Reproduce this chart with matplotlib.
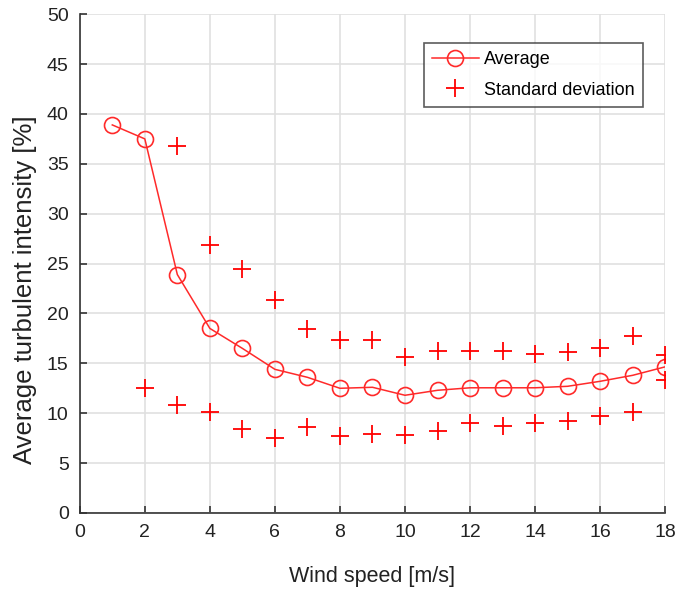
import matplotlib
matplotlib.use("Agg")
import matplotlib.pyplot as plt
from matplotlib import font_manager

names = {f.name for f in font_manager.fontManager.ttflist}
fam = ['Liberation Sans Narrow', 'DejaVu Sans'] if 'Liberation Sans Narrow' in names else ['Liberation Sans', 'DejaVu Sans']
plt.rcParams['font.family'] = fam

wind = [1, 2, 3, 4, 5, 6, 7, 8, 9, 10, 11, 12, 13, 14, 15, 16, 17, 18]
average = [38.9, 37.5, 23.9, 18.5, 16.5, 14.4, 13.6, 12.5, 12.6, 11.8, 12.3, 12.55, 12.55, 12.55, 12.7, 13.2, 13.8, 14.65]

std_x = [3, 4, 5, 6, 7, 8, 9, 10, 11, 12, 13, 14, 15, 16, 17, 18,
         2, 3, 4, 5, 6, 7, 8, 9, 10, 11, 12, 13, 14, 15, 16, 17, 18]
std_y = [36.8, 26.9, 24.5, 21.3, 18.4, 17.3, 17.3, 15.6, 16.2, 16.2, 16.2, 15.9, 16.1, 16.5, 17.7, 15.8,
         12.5, 10.8, 10.1, 8.4, 7.5, 8.6, 7.7, 7.9, 7.8, 8.2, 9.0, 8.7, 9.05, 9.25, 9.7, 10.1, 13.3]

xticks = [0, 2, 4, 6, 8, 10, 12, 14, 16, 18]
yticks = [0, 5, 10, 15, 20, 25, 30, 35, 40, 45, 50]

fig = plt.figure(figsize=(6.76, 5.91), dpi=100)
ax = fig.add_axes([0.118, 0.132, 0.866, 0.844])

ax.plot(wind, average, color='#ff2a2a', lw=1.1, marker='o', ms=11.5, mfc='none', mec='#ff2a2a', mew=1.2,
        label='Average', zorder=3)
ax.plot(std_x, std_y, ls='none', marker='+', ms=13, color='#ff0000', mew=1.3,
        label='Standard deviation', zorder=3)

ax.set_xlim(0, 18)
ax.set_ylim(0, 50)
ax.set_xticks(xticks)
ax.set_yticks(yticks)
ax.grid(True, color='#e0e0e0', lw=1.2)
ax.set_axisbelow(True)
for s in ['top', 'right']:
    ax.spines[s].set_visible(False)
for s in ['left', 'bottom']:
    ax.spines[s].set_color('#333333')
    ax.spines[s].set_linewidth(1.2)
ax.tick_params(direction='in', length=5, width=1.2, color='#333333', labelsize=14, labelcolor='#222222', pad=8)
ax.set_xlabel('Wind speed [m/s]', fontsize=15.5, color='#222222', labelpad=18)
ax.set_ylabel('Average turbulent intensity [%]', fontsize=18.5, color='#222222')
ax.yaxis.set_label_coords(-0.073, 0.447)

leg = ax.legend(loc='upper right', bbox_to_anchor=(0.962, 0.942), borderaxespad=0, fontsize=13, frameon=True,
                fancybox=False, edgecolor='#333333', handlelength=2.6, handletextpad=0.3,
                borderpad=0.45, labelspacing=0.75)
leg.get_frame().set_linewidth(1.2)

fig.savefig('out.png', dpi=100)
